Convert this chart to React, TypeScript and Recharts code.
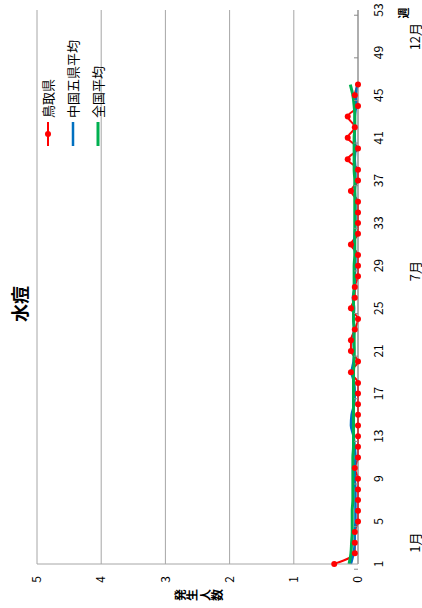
import { CartesianGrid, Legend, Line, LineChart, XAxis, YAxis } from "recharts";

const weeks = [
  1, 2, 3, 4, 5, 6, 7, 8, 9, 10, 11, 12, 13, 14, 15, 16, 17, 18, 19, 20, 21,
  22, 23, 24, 25, 26, 27, 28, 29, 30, 31, 32, 33, 34, 35, 36, 37, 38, 39, 40,
  41, 42, 43, 44, 45, 46, 47, 48, 49, 50, 51, 52, 53,
];

// 鳥取県
const tottori = [
  0.37, 0.05, 0.05, 0.05, 0, 0, 0, 0, 0, 0.05, 0, 0, 0, 0, 0, 0, 0, 0, 0.11,
  0, 0.11, 0.11, 0.05, 0, 0.11, 0.05, 0.05, 0, 0, 0, 0.11, 0, 0, 0, 0, 0.11,
  0, 0, 0.16, 0, 0.16, 0.05, 0.16, 0, 0.05, 0,
];

// 中国五県平均
const chugoku = [
  0.11, 0.07, 0.05, 0.05, 0.04, 0.04, 0.04, 0.04, 0.05, 0.05, 0.04, 0.05,
  0.07, 0.11, 0.1, 0.06, 0.05, 0.06, 0.1, 0.07, 0.06, 0.07, 0.06, 0.07, 0.06,
  0.08, 0.05, 0.05, 0.04, 0.04, 0.06, 0.05, 0.04, 0.04, 0.04, 0.05, 0.04,
  0.04, 0.05, 0.04, 0.05, 0.05, 0.05, 0.03, 0.03, 0.01,
];

// 全国平均
const national = [
  0.14, 0.11, 0.1, 0.09, 0.09, 0.09, 0.08, 0.08, 0.08, 0.08, 0.08, 0.07,
  0.07, 0.07, 0.07, 0.07, 0.07, 0.07, 0.07, 0.06, 0.06, 0.06, 0.06, 0.07,
  0.07, 0.07, 0.06, 0.06, 0.06, 0.05, 0.05, 0.05, 0.05, 0.05, 0.05, 0.05,
  0.05, 0.06, 0.06, 0.06, 0.06, 0.05, 0.05, 0.06, 0.08, 0.12,
];

const valueTicks = [0, 1, 2, 3, 4, 5];
const monthWeeks = [2, 27.5, 49.5];
const monthLabels = ["1月", "7月", "12月"];

const series = [
  { key: "tottori", name: "鳥取県", color: "#FF0000", width: 2, dot: true },
  { key: "chugoku", name: "中国五県平均", color: "#0070C0", width: 2.5, dot: false },
  { key: "national", name: "全国平均", color: "#00B050", width: 3, dot: false },
];

const data = weeks.map((week, i) => ({
  week,
  tottori: tottori[i] ?? null,
  chugoku: chugoku[i] ?? null,
  national: national[i] ?? null,
}));

const W = 608;
const H = 422;
const MARGIN = { top: 37, right: 10, bottom: 0, left: 0 };
const Y_AXIS_W = 44;
const PLOT_W = W - MARGIN.left - MARGIN.right - Y_AXIS_W;
const BAND = PLOT_W / weeks.length;
const FONT = "'Noto Sans CJK JP', 'Noto Sans', sans-serif";

const WeekTick = ({ x, y, payload }: any) => (
  <g>
    <line
      x1={x - BAND / 2}
      x2={x - BAND / 2}
      y1={y}
      y2={y - 4}
      stroke="#898989"
    />
    <text
      x={x}
      y={y + 19}
      textAnchor="middle"
      dominantBaseline="central"
      fontSize={12}
      fill="#000"
    >
      {payload.value}
    </text>
  </g>
);

const MonthTick = ({ x, y, payload }: any) => (
  <text
    x={x}
    y={y + 16}
    textAnchor="middle"
    dominantBaseline="central"
    fontSize={13}
    fill="#000"
  >
    {monthLabels[monthWeeks.indexOf(payload.value)]}
  </text>
);

const renderYLabel = ({ viewBox }: any) => {
  const cx = viewBox.x + 13;
  const cy = viewBox.y + viewBox.height / 2;
  const chars = Array.from("発生人数");
  const step = 12.5;
  const start = cy - ((chars.length - 1) * step) / 2;
  return (
    <text
      x={cx}
      textAnchor="middle"
      dominantBaseline="central"
      fontSize={12}
      fontWeight="bold"
      fill="#000"
    >
      {chars.map((c, i) => (
        <tspan key={c} x={cx} y={start + i * step}>
          {c}
        </tspan>
      ))}
    </text>
  );
};

const renderWeekLabel = ({ viewBox }: any) => (
  <text
    x={viewBox.x + viewBox.width - 3}
    y={viewBox.y + 45}
    textAnchor="middle"
    dominantBaseline="central"
    fontSize={11}
    fontWeight="bold"
    fill="#000"
  >
    週
  </text>
);

const LegendBox = () => (
  <div style={{ fontFamily: FONT, fontSize: 13, color: "#000" }}>
    {series.map((s) => (
      <div
        key={s.key}
        style={{ display: "flex", alignItems: "center", height: 25 }}
      >
        <svg width={24} height={10} style={{ marginRight: 4 }}>
          <line
            x1={0}
            x2={24}
            y1={5}
            y2={5}
            stroke={s.color}
            strokeWidth={s.width}
          />
          {s.dot && <circle cx={12} cy={5} r={3} fill={s.color} />}
        </svg>
        <span>{s.name}</span>
      </div>
    ))}
  </div>
);

export default function App() {
  return (
    <div
      style={{
        position: "absolute",
        left: 0,
        top: 0,
        width: H,
        height: W,
        overflow: "hidden",
        background: "#fff",
      }}
    >
      <div
        style={{
          position: "absolute",
          left: 0,
          top: 0,
          width: W,
          height: H,
          transformOrigin: "0 0",
          transform: `translate(0px, ${W}px) rotate(-90deg)`,
          fontFamily: FONT,
        }}
      >
        <div
          style={{
            position: "absolute",
            top: 6,
            left: 0,
            width: W,
            textAlign: "center",
            fontSize: 18,
            fontWeight: "bold",
            zIndex: 2,
          }}
        >
          水痘
        </div>
        <LineChart width={W} height={H} data={data} margin={MARGIN}>
          <CartesianGrid
            vertical={false}
            stroke="#A6A6A6"
            horizontalValues={valueTicks}
          />
          <XAxis
            dataKey="week"
            interval={3}
            tickLine={false}
            tickSize={0}
            tickMargin={0}
            height={40}
            axisLine={{ stroke: "#898989" }}
            tick={<WeekTick />}
            label={{ content: renderWeekLabel }}
          />
          <XAxis
            xAxisId="month"
            type="number"
            domain={[0.5, 53.5]}
            allowDataOverflow
            ticks={monthWeeks}
            interval={0}
            tickLine={false}
            axisLine={false}
            tickSize={0}
            tickMargin={0}
            height={24}
            tick={<MonthTick />}
          />
          <YAxis
            width={Y_AXIS_W}
            domain={[0, 5]}
            ticks={valueTicks}
            tickLine={false}
            tickSize={0}
            tickMargin={12}
            axisLine={{ stroke: "#A6A6A6" }}
            tick={{ fontSize: 12, fill: "#000" }}
            label={{ content: renderYLabel }}
          />
          <Legend
            layout="horizontal"
            verticalAlign="middle"
            align="center"
            wrapperStyle={{ top: 35, left: 462, width: 140 }}
            content={() => <LegendBox />}
          />
          {series.map((s) => (
            <Line
              key={s.key}
              type="monotone"
              dataKey={s.key}
              name={s.name}
              stroke={s.color}
              strokeWidth={s.width}
              dot={s.dot ? { r: 3, fill: s.color, stroke: "none" } : false}
              activeDot={false}
              connectNulls={false}
              isAnimationActive={false}
            />
          ))}
        </LineChart>
      </div>
    </div>
  );
}
